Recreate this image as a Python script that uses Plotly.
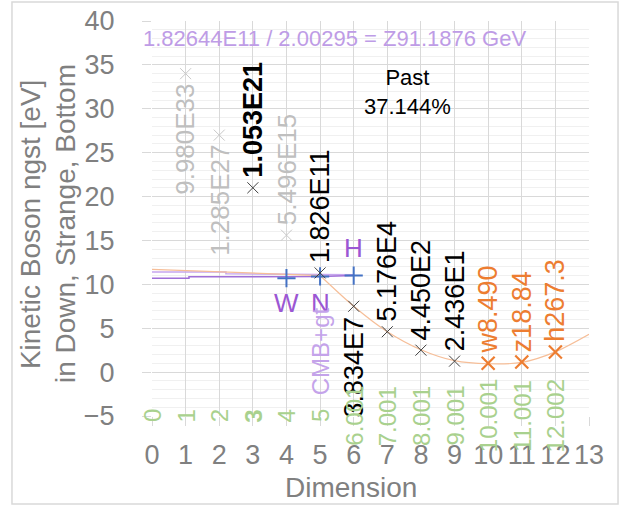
"""Kinetic boson energy by dimension, redrawn from an Excel chart."""

import plotly.graph_objects as go

FONT = "Liberation Sans, Arial, sans-serif"
AXIS_GREY = "#808080"
GRID = "#D9D9D9"

# grey points (labels below / above the marker)
grey_x = [1, 2, 4]
grey_y = [34.0, 27.0, 15.6]
grey_labels = ["9.980E33", "1.285E27", "5.496E15"]
grey_pos = ["below", "below", "above"]

# black points
black_x = [3, 5, 6, 7, 8, 9]
black_y = [21.0, 11.3, 7.5, 4.6, 2.5, 1.25]
black_labels = ["<b>1.053E21</b>", "1.826E11", "3.834E7", "5.176E4", "4.450E2", "2.436E1"]
black_pos = ["above", "above", "below", "above", "above", "above"]

# orange bosons
orange_x = [10, 11, 12]
orange_y = [1.0, 1.15, 2.3]
orange_labels = ["w8.490", "z18.84", "h267.3"]

# blue crosses W, N, H
blue_x = [4, 5, 6]
blue_y = [10.7, 10.9, 11.0]
blue_labels = ["W", "N", "H"]
blue_label_y = [7.85, 7.85, 14.1]

# green dimension labels along the bottom
green_x = [0, 1, 2, 3, 4, 5, 6, 7, 8, 9, 10, 11, 12]
green_y = [-5] * 13
green_labels = ["0", "1", "2", "<b>3</b>", "4", "5", "6.001", "7.001",
                "8.001", "9.001", "10.001", "11.001", "12.002"]

# orange trend line (flat part, then the curve)
trend_flat_x = [0, 5]
trend_flat_y = [11.7, 11.0]
trend_curve_x = [5, 6, 7, 8, 9, 10, 11, 12, 13]
trend_curve_y = [11.0, 7.5, 4.6, 2.55, 1.3, 0.95, 1.1, 2.3, 4.3]

# purple near-flat lines
purple_a_x = [0, 2.2, 2.2, 6]
purple_a_y = [11.4, 11.4, 11.2, 11.1]
purple_b_x = [0, 1.1, 1.1, 5, 6]
purple_b_y = [10.7, 10.7, 10.85, 10.9, 11.0]

x_ticks = list(range(0, 14))
y_ticks = list(range(-5, 41, 5))

fig = go.Figure()

fig.add_trace(go.Scatter(x=purple_a_x, y=purple_a_y, mode="lines",
                         line={"color": "#C6A6EE", "width": 1.5}, hoverinfo="skip"))
fig.add_trace(go.Scatter(x=purple_b_x, y=purple_b_y, mode="lines",
                         line={"color": "#A06FD8", "width": 1.5}, hoverinfo="skip"))
fig.add_trace(go.Scatter(x=trend_flat_x, y=trend_flat_y, mode="lines",
                         line={"color": "#F6BE98", "width": 1.2}, hoverinfo="skip"))
fig.add_trace(go.Scatter(x=trend_curve_x, y=trend_curve_y, mode="lines",
                         line={"color": "#F6BE98", "width": 1.2, "shape": "spline",
                               "smoothing": 0.8}, hoverinfo="skip"))


def markers(xs, ys, symbol, size, color, width):
    fig.add_trace(go.Scatter(
        x=xs, y=ys, mode="markers",
        marker={"symbol": symbol, "size": size, "color": color,
                "line": {"color": color, "width": width}},
    ))


markers(blue_x, blue_y, "cross-thin-open", 13, "#4472C4", 2)
markers(grey_x, grey_y, "x-thin-open", 11, "#C8C8C8", 1)
markers(black_x, black_y, "x-thin-open", 11, "#404040", 1)
markers(orange_x, orange_y, "x-thin-open", 13, "#ED7D31", 2.2)


def point_label(x, y, text, pos, color, size):
    above = pos == "above"
    fig.add_annotation(
        x=x, y=y, text=text, showarrow=False, textangle=-90,
        xanchor="center", yanchor="bottom" if above else "top",
        yshift=8 if above else -8,
        font={"family": FONT, "size": size, "color": color},
    )


for x, y, t, p in zip(grey_x, grey_y, grey_labels, grey_pos):
    point_label(x, y, t, p, "#BFBFBF", 26)
for x, y, t, p in zip(black_x, black_y, black_labels, black_pos):
    point_label(x, y, t, p, "#000000", 27)
for x, y, t in zip(orange_x, orange_y, orange_labels):
    point_label(x, y, t, "above", "#ED7D31", 27)

for x, y, t in zip(green_x, green_y, green_labels):
    fig.add_annotation(x=x, y=y, text=t, showarrow=False, textangle=-90,
                       xanchor="center", yanchor="middle",
                       font={"family": FONT, "size": 24, "color": "#A9D18E"})

for x, y, t in zip(blue_x, blue_label_y, blue_labels):
    fig.add_annotation(x=x, y=y, text=t, showarrow=False,
                       xanchor="center", yanchor="middle",
                       font={"family": FONT, "size": 26, "color": "#9B57D3"})

fig.add_annotation(x=5, y=-2.85, text="CMB+gt", showarrow=False, textangle=-90,
                   xanchor="center", yanchor="bottom",
                   font={"family": FONT, "size": 24, "color": "#C4A3EA"})
fig.add_annotation(x=5.42, y=38.0, text="1.82644E11 / 2.00295 = Z91.1876 GeV",
                   showarrow=False, xanchor="center", yanchor="middle",
                   font={"family": FONT, "size": 22, "color": "#BE9CE6"})
fig.add_annotation(x=7.59, y=31.9, text="Past<br>37.144%", showarrow=False,
                   xanchor="center", yanchor="middle",
                   font={"family": FONT, "size": 22, "color": "#000000"})

# axis titles
title_font = {"family": FONT, "size": 28, "color": AXIS_GREY}
fig.add_annotation(xref="paper", yref="paper", x=-0.279, y=0.486,
                   xanchor="center", yanchor="middle",
                   text="Kinetic Boson ngst [eV]", textangle=-90, showarrow=False,
                   font=title_font)
fig.add_annotation(xref="paper", yref="paper", x=-0.199, y=0.486,
                   xanchor="center", yanchor="middle",
                   text="in Down, Strange, Bottom", textangle=-90, showarrow=False,
                   font=title_font)
fig.add_annotation(xref="paper", yref="paper", x=0.455, y=-0.18,
                   xanchor="center", yanchor="middle",
                   text="Dimension", showarrow=False, font=title_font)

# chart-area border
fig.add_shape(type="rect", xref="paper", yref="paper",
              x0=-0.3204, x1=1.0664, y0=-0.2228, y1=1.0481,
              line={"color": GRID, "width": 1.5}, layer="below")

fig.update_layout(
    width=622, height=506,
    margin={"l": 152, "r": 33, "t": 21, "b": 90},
    paper_bgcolor="white", plot_bgcolor="white",
    showlegend=False,
    font={"family": FONT, "color": AXIS_GREY},
    xaxis={
        "range": [0, 13], "tickvals": x_ticks, "showgrid": True,
        "gridcolor": GRID, "zeroline": False, "showline": False,
        "ticks": "outside", "ticklen": 9, "tickcolor": GRID,
        "tickfont": {"size": 27, "color": AXIS_GREY},
        "ticklabelstandoff": 6, "automargin": False,
    },
    yaxis={
        "range": [-5, 40], "tickvals": y_ticks, "showgrid": True,
        "gridcolor": GRID, "zeroline": False, "showline": False,
        "ticks": "outside", "ticklen": 9, "tickcolor": GRID,
        "tickfont": {"size": 27, "color": AXIS_GREY},
        "ticklabelstandoff": 22, "automargin": False,
        "minor": {"dtick": 1, "showgrid": True, "gridcolor": "#F0F0F0"},
    },
)

# the page body has a default 8px margin; drop it so the chart fills the window
fig.write_html(
    "out.html",
    config={"displayModeBar": False},
    post_script="document.body.style.margin = '0';",
)
